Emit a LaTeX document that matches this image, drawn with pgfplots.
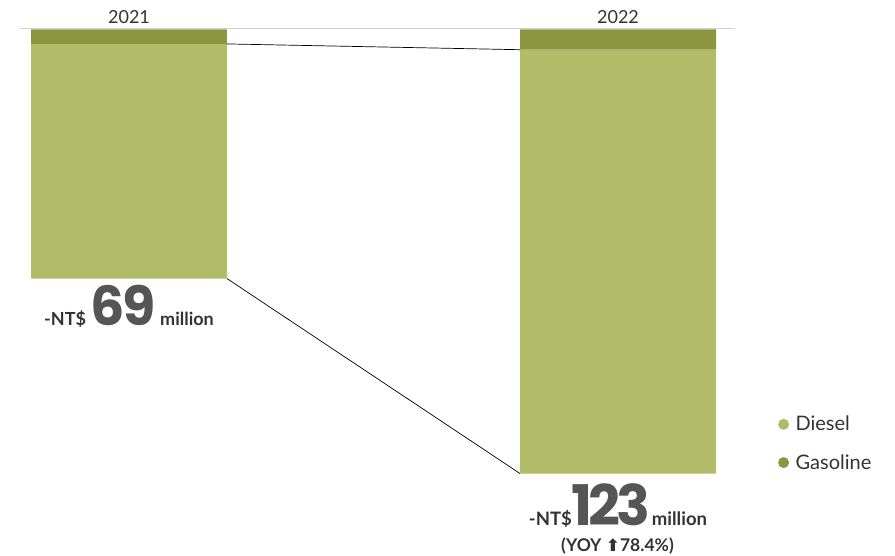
\documentclass[border=0pt]{standalone}
\usepackage{pgfplots}
\pgfplotsset{compat=1.18}
\usepackage{fontspec}
\setmainfont{Lato}
\newfontfamily\dejavu{DejaVu Sans}
\newfontfamily\poppins{Poppins}
\definecolor{diesel}{RGB}{178,187,104}
\definecolor{gasoline}{RGB}{140,150,62}
\definecolor{txt}{RGB}{51,51,51}
\definecolor{big}{RGB}{85,85,85}
\pgfplotsset{myax/.style={
  scale only axis, width=895pt, height=555pt,
  xmin=-0.26380, xmax=1.56646, ymin=-145.57, ymax=8.17,
  hide axis, clip=false}}
\begin{document}
\begin{tikzpicture}
\begin{axis}[myax, ybar stacked, bar width=0.4008,
  legend style={at={(axis cs:1.327,-106.8)}, anchor=north west, draw=none, fill=none,
    font=\fontsize{20}{22}\selectfont\color{txt}, row sep=20pt,
    inner sep=0pt, nodes={inner sep=1pt}},
  legend cell align=left,
  reverse legend]
\draw[gray!35, line width=1pt] (axis cs:-0.2229,0.15) -- (axis cs:1.2393,0.15);
\addplot[fill=gasoline, draw=none,
  legend image code/.code={\fill[gasoline] (0pt,0pt) circle (5.5pt); \path (11pt,0pt);}]
  coordinates {(0,-4.0) (1,-5.6)};
\addlegendentry{Gasoline}
\addplot[fill=diesel, draw=none,
  legend image code/.code={\fill[diesel] (0pt,0pt) circle (5.5pt); \path (11pt,0pt);}]
  coordinates {(0,-65.0) (1,-117.4)};
\addlegendentry{Diesel}
\node[anchor=base, font=\fontsize{18}{18}\selectfont, text=txt] at (axis cs:0,1.65) {2021};
\node[anchor=base, font=\fontsize{18}{18}\selectfont, text=txt] at (axis cs:1,1.65) {2022};
\node[anchor=base, text=txt, inner sep=0pt] at (axis cs:0,-82.0)
  {\fontsize{18}{18}\selectfont\bfseries -NT\$ {\color{big}\poppins\fontsize{54}{54}\selectfont\addfontfeatures{LetterSpace=-4}69} million};
\node[anchor=base, text=txt, inner sep=0pt] at (axis cs:1.0,-137.3)
  {\fontsize{18.5}{18}\selectfont\bfseries -NT\${\color{big}\poppins\fontsize{56}{56}\selectfont\addfontfeatures{LetterSpace=-8}123}\hspace{2pt}million};
\node[anchor=base, text=txt, inner sep=0pt] at (axis cs:0.999,-144.7)
  {\fontsize{17.5}{17.5}\selectfont\bfseries (YOY {\dejavu\fontsize{17}{17}\selectfont ⬆}78.4\%)};
\end{axis}
\begin{axis}[myax]
\addplot[black, line width=0.7pt] coordinates {(0.2004,-4.0) (0.7996,-5.6)};
\addplot[black, line width=0.7pt] coordinates {(0.2004,-69.0) (0.7996,-123.0)};
\end{axis}
\pgfresetboundingbox
\path (current axis.south west) rectangle (current axis.north east);
\end{tikzpicture}
\end{document}
